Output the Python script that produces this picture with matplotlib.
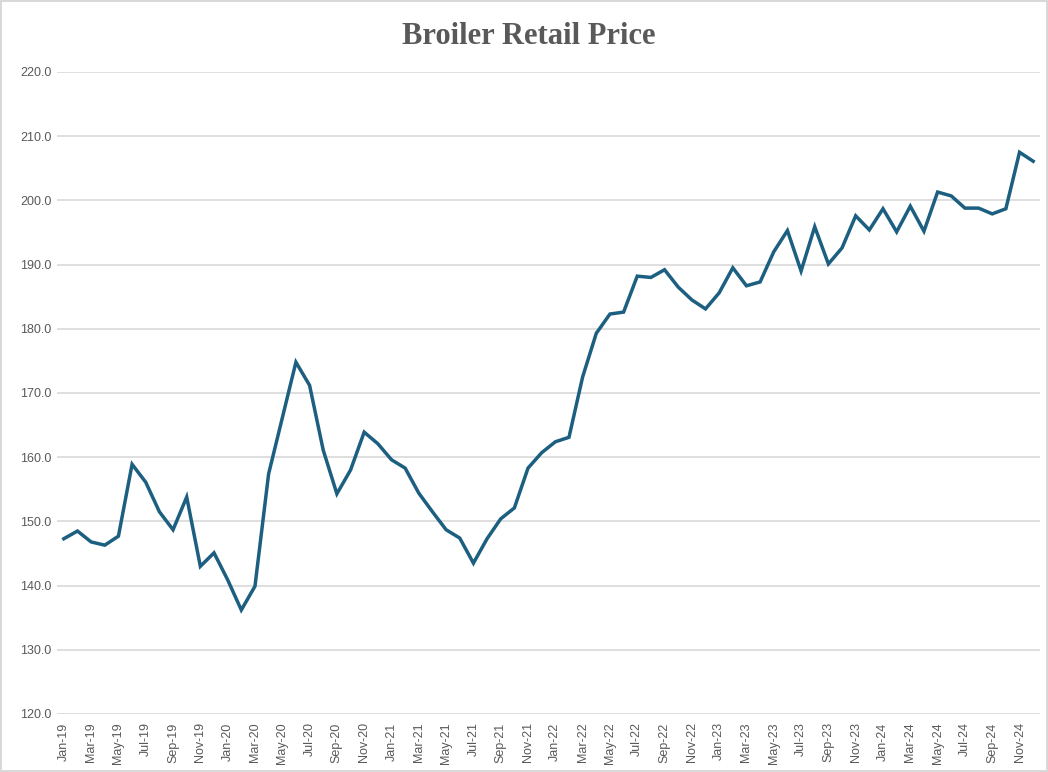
import matplotlib
matplotlib.use("Agg")
import matplotlib.pyplot as plt

months = ["Jan", "Feb", "Mar", "Apr", "May", "Jun",
          "Jul", "Aug", "Sep", "Oct", "Nov", "Dec"]
years = ["19", "20", "21", "22", "23", "24"]
labels = [f"{m}-{y}" for y in years for m in months]

prices = [
    147.3, 148.5, 146.8, 146.3, 147.7, 158.9, 156.1, 151.5, 148.7, 153.8, 143.0, 145.1,
    140.9, 136.2, 139.9, 157.4, 166.1, 174.8, 171.2, 161.1, 154.3, 158.0, 163.9, 162.1,
    159.6, 158.3, 154.4, 151.5, 148.7, 147.4, 143.5, 147.3, 150.4, 152.1, 158.3, 160.7,
    162.4, 163.1, 172.5, 179.3, 182.3, 182.6, 188.2, 188.0, 189.2, 186.5, 184.5, 183.1,
    185.6, 189.5, 186.7, 187.3, 192.0, 195.3, 189.0, 195.9, 190.1, 192.6, 197.6, 195.4,
    198.7, 195.1, 199.1, 195.2, 201.3, 200.7, 198.8, 198.8, 197.9, 198.7, 207.5, 206.1,
]

plt.rcParams["font.family"] = ["Liberation Sans", "DejaVu Sans"]

fig = plt.figure(figsize=(10.48, 7.72), dpi=100)
fig.patch.set_edgecolor("#d9d9d9")
fig.patch.set_linewidth(1.5)
ax = fig.add_axes([57 / 1048, 58 / 772, 983 / 1048, 642 / 772])

x = list(range(len(prices)))
ax.plot(x, prices, color="#1c5f80", lw=2.5, solid_joinstyle="miter")

ax.set_xlim(-0.5, len(prices) - 0.5)
ax.set_ylim(120, 220)
ax.set_yticks(range(120, 221, 10))
ax.set_yticklabels([f"{v:.1f}" for v in range(120, 221, 10)])
ax.set_xticks(x[::2])
ax.set_xticklabels(labels[::2], rotation=90)

ax.grid(axis="y", color="#d9d9d9", lw=1.2)
ax.set_axisbelow(True)
for s in ax.spines.values():
    s.set_visible(False)
ax.tick_params(axis="both", length=0, labelsize=9, colors="#595959")
ax.tick_params(axis="y", pad=4)
ax.tick_params(axis="x", pad=6)

fig.text(0.505, 0.953, "Broiler Retail Price", ha="center", va="center",
         family="Liberation Serif", fontweight="bold", fontsize=22, color="#595959")

fig.savefig("out.png", dpi=100)
